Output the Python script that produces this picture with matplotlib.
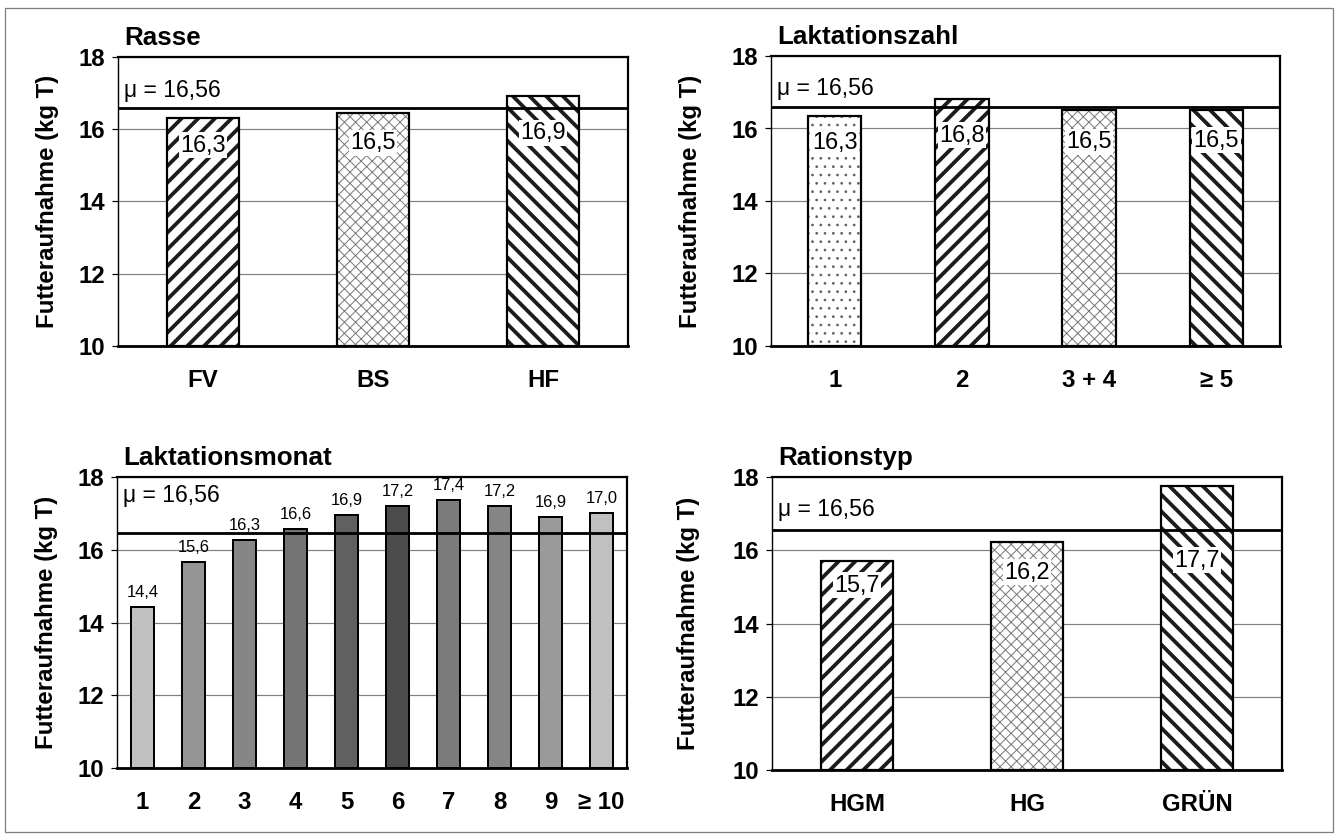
import matplotlib
matplotlib.use("Agg")
import matplotlib.pyplot as plt
from matplotlib.patches import Rectangle
import matplotlib.transforms as mtransforms

DPI = 100
W, H = 1337, 838


def pt(px):
    return px * 72.0 / DPI


plt.rcParams['font.family'] = ['Liberation Sans', 'DejaVu Sans']

# ---------------- data ----------------
rasse_cats = ['FV', 'BS', 'HF']
rasse_vals = [16.3, 16.45, 16.92]
rasse_labels = ['16,3', '16,5', '16,9']

lz_cats = ['1', '2', '3 + 4', '≥ 5']
lz_vals = [16.35, 16.8, 16.5, 16.5]
lz_labels = ['16,3', '16,8', '16,5', '16,5']

lm_cats = ['1', '2', '3', '4', '5', '6', '7', '8', '9', '≥ 10']
lm_vals = [14.43, 15.66, 16.28, 16.58, 16.96, 17.2, 17.38, 17.2, 16.9, 17.02]
lm_labels = ['14,4', '15,6', '16,3', '16,6', '16,9', '17,2', '17,4', '17,2', '16,9', '17,0']

rt_cats = ['HGM', 'HG', 'GRÜN']
rt_vals = [15.7, 16.22, 17.75]
rt_labels = ['15,7', '16,2', '17,7']

mean_text = 'μ = 16,56'
mean_lines = [16.6, 16.6, 16.47, 16.55]   # as drawn in each panel

titles = ['Rasse', 'Laktationszahl', 'Laktationsmonat', 'Rationstyp']
ylabel = 'Futteraufnahme (kg T)'

# ---------------- styles ----------------
lm_colors = ['#c0c0c0', '#959595', '#868686', '#747474', '#606060',
             '#4c4c4c', '#7b7b7b', '#858585', '#9a9a9a', '#c0c0c0']
pattern = {
    'fwd': dict(hatch='//', color='#1c1c1c', lw=pt(3.8)),
    'bwd': dict(hatch='\\\\', color='#1c1c1c', lw=pt(3.8)),
    'cross': dict(hatch='xxx', color='#7a7a7a', lw=pt(1.0)),
    'dots': dict(hatch='..', color='#606060', lw=pt(1.0)),
}
rasse_pat = ['fwd', 'cross', 'bwd']
lz_pat = ['dots', 'fwd', 'cross', 'bwd']
rt_pat = ['fwd', 'cross', 'bwd']

# axes boxes in pixels: (left, top, right, bottom)
boxes = [(118, 57, 628, 346), (771, 56, 1280, 346),
         (117, 477, 627, 768), (772, 477, 1282, 770)]
ylabel_x = [47, 691, 47, 689]
label_y = [[15.56, 15.62, 15.9], [15.6, 15.82, 15.63, 15.68], None, [15.05, 15.4, 15.73]]
mean_text_y = [17.07, 17.1, 17.48, 17.1]

fig = plt.figure(figsize=(W / DPI, H / DPI), dpi=DPI)
fig.patch.set_facecolor('white')
fig.add_artist(Rectangle((5 / W, 1 - 832 / H), (1333 - 5) / W, (832 - 8) / H,
                         transform=fig.transFigure, fill=False,
                         edgecolor='#808080', lw=pt(1.3)))


def make_ax(i):
    l, t, r, b = boxes[i]
    ax = fig.add_axes([l / W, 1 - b / H, (r - l) / W, (b - t) / H])
    ax.set_ylim(10, 18)
    ax.set_yticks([10, 12, 14, 16, 18])
    ax.set_axisbelow(True)
    ax.yaxis.grid(True, color='#808080', lw=pt(1.2))
    ax.tick_params(axis='y', direction='out', length=pt(6), width=pt(1.2),
                   pad=pt(7), labelsize=pt(24))
    ax.tick_params(axis='x', length=0, pad=pt(23), labelsize=pt(24))
    for lab in ax.get_yticklabels():
        lab.set_fontweight('bold')
    for s in ['top', 'right']:
        ax.spines[s].set_linewidth(pt(2.2))
    ax.spines['left'].set_linewidth(pt(1.4))
    ax.spines['bottom'].set_linewidth(pt(2.8))
    ax.text(0.013, 1 + 12 / (b - t), titles[i], transform=ax.transAxes,
            ha='left', va='baseline', fontsize=pt(26), fontweight='bold')
    ax.text((ylabel_x[i] - l) / (r - l), 0.5, ylabel, transform=ax.transAxes,
            ha='center', va='center', rotation=90, fontsize=pt(24),
            fontweight='bold')
    trans = mtransforms.blended_transform_factory(ax.transAxes, ax.transData)
    ax.axhline(mean_lines[i], color='black', lw=pt(2.8), zorder=6)
    ax.text(0.012, mean_text_y[i], mean_text, transform=trans, ha='left',
            va='center', fontsize=pt(23), zorder=7)
    return ax


def hatched_panel(i, cats, vals, labels, pats):
    ax = make_ax(i)
    x = list(range(len(cats)))
    w = 0.42
    for xi, v, p in zip(x, vals, pats):
        st = pattern[p]
        plt.rcParams['hatch.linewidth'] = st['lw']
        bars = ax.bar(xi, v - 10, bottom=10, width=w, facecolor='white',
                      edgecolor=st['color'], linewidth=0, hatch=st['hatch'],
                      zorder=3)
        for patch in bars:
            if hasattr(patch, 'set_hatch_linewidth'):
                patch.set_hatch_linewidth(st['lw'])
    ax.bar(x, [v - 10 for v in vals], bottom=10, width=w, fill=False,
           edgecolor='black', linewidth=pt(2.2), zorder=4)
    for xi, ly, lab in zip(x, label_y[i], labels):
        ax.text(xi, ly, lab, ha='center', va='center', fontsize=pt(23.5),
                zorder=8, bbox=dict(facecolor='white', edgecolor='none', pad=1.0))
    ax.set_xticks(x)
    ax.set_xticklabels(cats, fontweight='bold')
    ax.set_xlim(-0.5, len(cats) - 0.5)
    return ax


hatched_panel(0, rasse_cats, rasse_vals, rasse_labels, rasse_pat)
hatched_panel(1, lz_cats, lz_vals, lz_labels, lz_pat)

ax3 = make_ax(2)
xm = list(range(len(lm_cats)))
ax3.bar(xm, [v - 10 for v in lm_vals], bottom=10, width=0.47, color=lm_colors,
        edgecolor='black', linewidth=pt(2.0), zorder=3)
for xi, v, lab in zip(xm, lm_vals, lm_labels):
    ax3.annotate(lab, (xi, v), xytext=(0, pt(7)), textcoords='offset points',
                 ha='center', va='bottom', fontsize=pt(16.5), zorder=8)
ax3.set_xticks(xm)
ax3.set_xticklabels(lm_cats, fontweight='bold')
ax3.set_xlim(-0.5, len(lm_cats) - 0.5)

hatched_panel(3, rt_cats, rt_vals, rt_labels, rt_pat)

fig.savefig('out.png', dpi=DPI, facecolor='white')
